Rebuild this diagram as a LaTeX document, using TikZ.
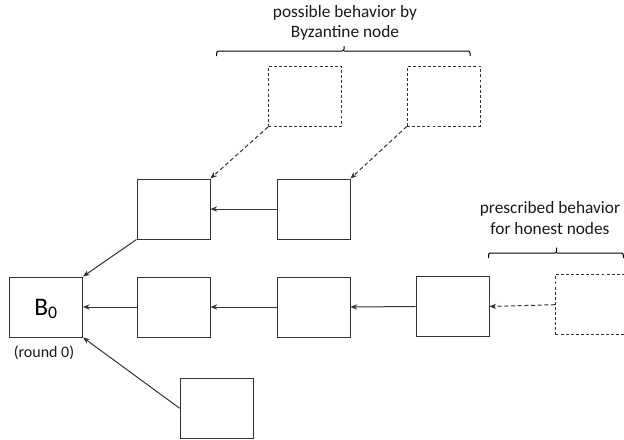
\documentclass[tikz,border=0pt]{standalone}
\usepackage{fontspec}
\setmainfont{Carlito}
\usetikzlibrary{arrows.meta,decorations.pathreplacing}
\definecolor{ln}{HTML}{333333}
\begin{document}
\begin{tikzpicture}[x=0.75pt,y=-0.75pt,
  blk/.style={draw=ln,line width=0.75pt,minimum width=54.75pt,minimum height=45pt,inner sep=0pt},
  dblk/.style={blk,dashed,dash pattern=on 2.2pt off 1.6pt},
  arr/.style={draw=ln,line width=0.75pt,-{Stealth[length=5pt,width=4pt]}},
  darr/.style={arr,dash pattern=on 3pt off 2pt},
  lbl/.style={font=\fontsize{13}{15.5}\selectfont,align=center,text=black!90},
  brc/.style={draw=black,line width=0.75pt,rounded corners=1.5pt}]
\clip (0,0) rectangle (624,439);
\useasboundingbox (0,0) rectangle (624,439);
\node[blk] (b0) at (46,307) {};
\node[font=\fontsize{19}{22}\selectfont] (b0t) at (46,309) {B$_{\mathrm{0}}$};
\node[lbl,font=\fontsize{12}{14}\selectfont] (r0) at (44,353) {(round 0)};
\node[blk] (m1) at (173.5,307) {};
\node[blk] (m2) at (313.5,307) {};
\node[blk] (m3) at (452.5,306.5) {};
\node[dblk] (m4) at (592,304.7) {};
\node[blk] (u1) at (173.5,209) {};
\node[blk] (u2) at (313.5,209) {};
\node[dblk] (d1) at (305,96.5) {};
\node[dblk] (d2) at (443.7,96) {};
\node[blk] (bt) at (216.7,408.3) {};
% connectors
\draw[arr] (u1.south west) -- (b0.north east);
\draw[arr] (u2.west) -- (u1.east);
\draw[arr] (m1.west) -- (b0.east);
\draw[arr] (m2.west) -- (m1.east);
\draw[arr] (m3.west) -- (m2.east);
\draw[darr] (m4.west) -- (m3.east);
\draw[arr] (bt.west) -- (b0.south east);
\draw[darr] (d1.south west) -- (u1.north east);
\draw[darr] (d2.south west) -- (u2.north east);
% braces and labels
\coordinate (bl1) at (216.7,56);
\coordinate (br1) at (470,56);
\draw[brc] (bl1) -- ++(0,-5) -- (344,51) -- (344,46) (344,51) -- (470,51) -- (br1);
\node[lbl] (t1) at (345,23) {possible behavior by\\Byzantine node};
\coordinate (bl2) at (488.5,258);
\coordinate (br2) at (623.3,258);
\draw[brc] (bl2) -- ++(0,-5) -- (556.7,253) -- (556.7,247.5) (556.7,253) -- (623.3,253) -- (br2);
\node[lbl] (t2) at (550,218) {prescribed behavior\\for honest nodes};
\end{tikzpicture}
\end{document}
